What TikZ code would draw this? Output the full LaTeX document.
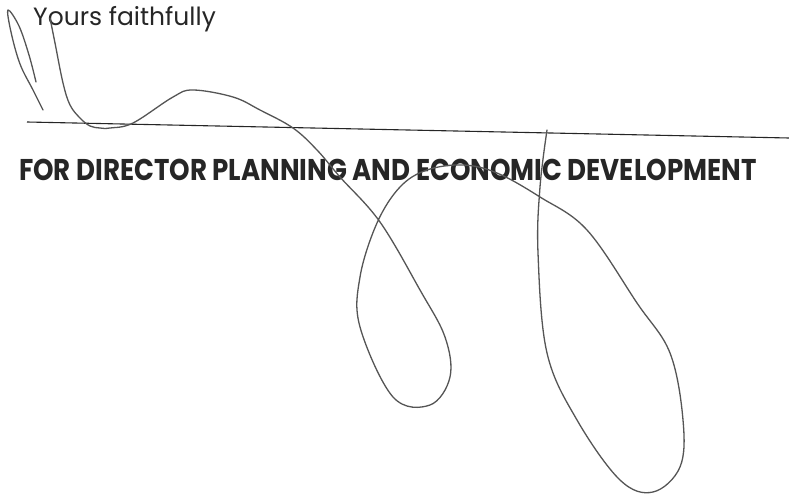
\documentclass[tikz,border=0pt]{standalone}
\usepackage{fontspec}
\setmainfont{Poppins}
\definecolor{inkgrey}{HTML}{555555}
\definecolor{printgrey}{HTML}{262626}
\begin{document}
\begin{tikzpicture}[x=1pt,y=-1pt,
  sig/.style={draw=inkgrey, line width=1.3pt, line cap=round, line join=round},
  txt/.style={anchor=base west, inner sep=0pt, text=printgrey}]
\useasboundingbox[fill=white] (0,0) rectangle (789,500);
\node[txt, font=\fontsize{25}{28}\selectfont] (yours) at (33,26) {Yours faithfully};
\draw[printgrey, line width=1.1pt] (27,122) -- (789,138);
\node[txt, xscale=0.87, font=\fontsize{30}{34}\selectfont\bfseries] (title) at (19,180) {FOR DIRECTOR PLANNING AND ECONOMIC DEVELOPMENT};
% signature
\draw[sig] plot[smooth, tension=0.6] coordinates {(43,110) (33,90) (20,64) (11,32) (8,10) (19,26) (29,55) (36,82)};
\draw[sig] plot[smooth, tension=0.6] coordinates {(50,18) (55,43) (63,83) (70,105) (80,118) (90,126) (100,128) (110,128) (133,123) (173,97) (193,90) (233,97) (260,110) (293,128) (317,150) (340,177) (380,222) (420,290) (445,337) (450,377) (430,405) (393,397) (360,327) (360,277) (377,223) (400,187) (427,170) (463,165) (497,173) (540,197) (587,230) (637,303) (670,353) (683,420) (680,467) (653,492) (620,480) (577,420) (547,353) (538,253) (540,187) (547,130)};
\end{tikzpicture}
\end{document}
